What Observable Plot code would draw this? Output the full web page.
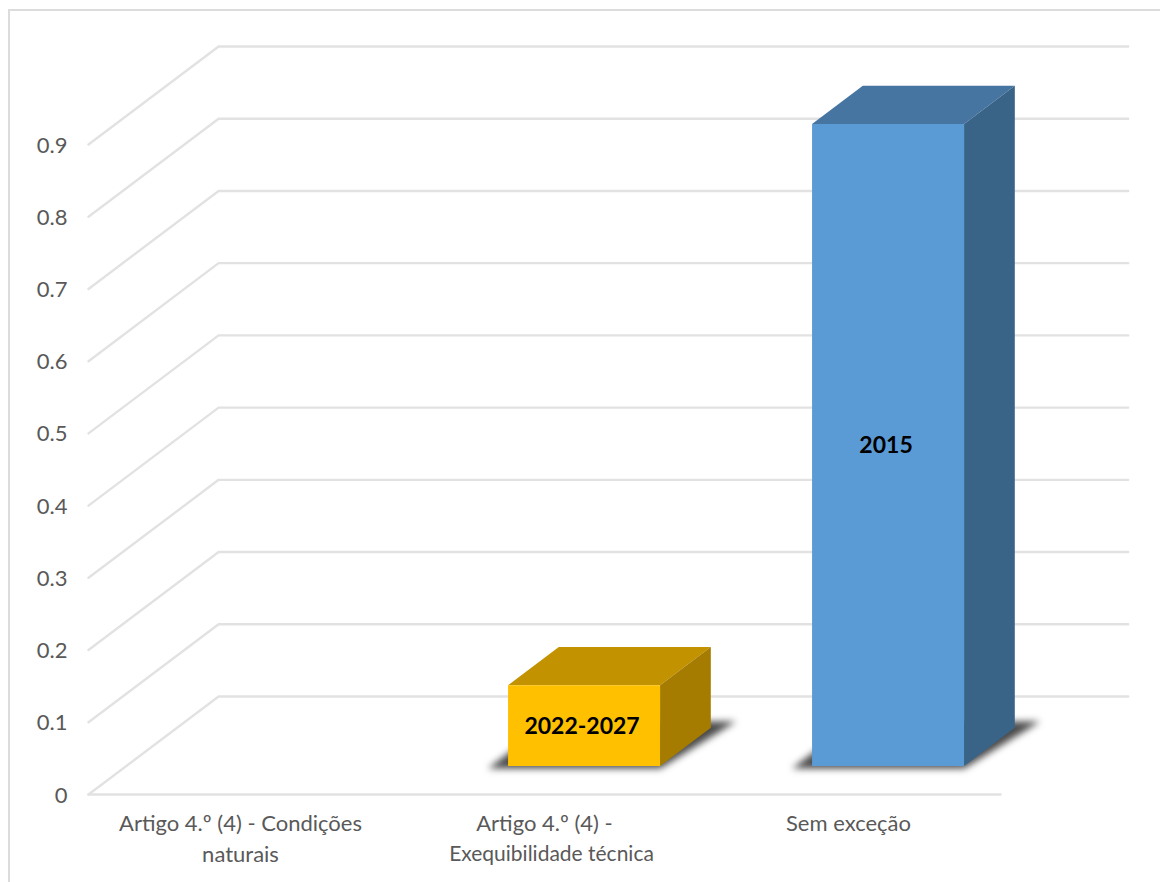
<!DOCTYPE html>
<html lang="pt">
<head>
<meta charset="utf-8">
<script src="https://cdn.jsdelivr.net/npm/d3@7"></script>
<script src="https://cdn.jsdelivr.net/npm/@observablehq/plot@0.6"></script>
<style>
  html, body { margin: 0; padding: 0; background: #fff; overflow: hidden; width: 1160px; height: 882px; }
  #border { position: absolute; left: 8px; top: 9px; width: 1170px; height: 900px; border: 2px solid #dcdcdc; }
  #chart { position: absolute; left: 0; top: 0; }
</style>
</head>
<body>
<div id="border"></div>
<div id="chart"></div>
<script>
const firstLines = ["Artigo 4.º (4) - Condições", "Artigo 4.º (4) -", "Sem exceção"];
const secondLines = ["naturais", "Exequibilidade técnica", ""];
const values = [null, 0.112, 0.889];
const barLabels = [null, "2022-2027", "2015"];
const frontColors = [null, "#ffc000", "#5b9bd5"];
const topColors = [null, "#c29200", "#4675a2"];
const sideColors = [null, "#a67c00", "#3a6487"];
const yTicks = [0, 0.1, 0.2, 0.3, 0.4, 0.5, 0.6, 0.7, 0.8, 0.9];

// oblique projection of the 3D chart box, in scale units
const depthX = 0.428, depthY = 0.1357;
const d0 = 0.29, d1 = 0.68, halfW = 0.25, barShift = 0.006;
const P = (c, v, d) => ({x: c + d * depthX, y: v + d * depthY});

const FONT = "Lato";
const gridColor = "#e2e2e2";
const marks = [];

for (const t of yTicks) {
  const pts = [P(0, t, 0), P(0, t, 1), P(2.992, t, 1)];
  marks.push(Plot.line(pts, {x: "x", y: "y", stroke: gridColor, strokeWidth: 2.4, curve: "linear"}));
}
marks.push(Plot.line([P(0, 0, 0), P(3, 0, 0)], {x: "x", y: "y", stroke: gridColor, strokeWidth: 2.4}));

values.forEach((v, i) => {
  if (v == null) return;
  const c = i + 0.5 + barShift, l = c - halfW, r = c + halfW;
  const poly = (pts, fill, extra = {}) =>
    marks.push(Plot.line(pts, {x: "x", y: "y", fill, stroke: "none", ...extra}));
  // floor shadow
  const s = 0.055, sd0 = 0.265, sd1 = 0.745;
  poly([P(l - s, 0, sd0), P(r + s * 0.2, 0, sd0), P(r + s, 0, sd1), P(l - s, 0, sd1)], "#4a4a4a",
       {imageFilter: "blur(3.5px)"});
  // faces
  poly([P(l, v, d0), P(r, v, d0), P(r, v, d1), P(l, v, d1)], topColors[i]);
  poly([P(r, 0, d0), P(r, v, d0), P(r, v, d1), P(r, 0, d1)], sideColors[i]);
  poly([P(l, 0, d0), P(r, 0, d0), P(r, v, d0), P(l, v, d0)], frontColors[i]);
  const m = P(c, v / 2, d0);
  marks.push(Plot.text([barLabels[i]], {x: [m.x], y: [m.y], text: d => d, dx: -2, dy: 1, fontWeight: 700, fontSize: 23, fontFamily: FONT, fill: "#000"}));
});

marks.push(Plot.axisY(yTicks, {
  anchor: "left", tickSize: 0, tickPadding: 21, dy: 1, fontSize: 22, fontFamily: FONT, fill: "#595959", label: null,
  tickFormat: d => String(d)
}));

const labelStyle = {y: () => 0, text: d => d, textAnchor: "middle", fontSize: 22, fontFamily: FONT, fill: "#595959"};
marks.push(Plot.text(firstLines, {...labelStyle, x: (d, i) => i + 0.5, dy: 29}));
marks.push(Plot.text(secondLines, {...labelStyle, x: (d, i) => i + 0.5, dy: 60, filter: (d, i) => i === 0}));
marks.push(Plot.text(secondLines, {...labelStyle, x: (d, i) => i + 0.5, dy: 60, dx: 7, fontSize: 21, filter: (d, i) => i === 1}));

const chart = Plot.plot({
  width: 1160, height: 882,
  marginLeft: 88, marginRight: 160, marginTop: 144, marginBottom: 88,
  style: {background: "transparent", overflow: "visible"},
  x: {domain: [0, 3], axis: null},
  y: {domain: [0, 0.9], axis: null, clamp: false},
  marks
});
document.getElementById("chart").append(chart);
</script>
</body>
</html>
